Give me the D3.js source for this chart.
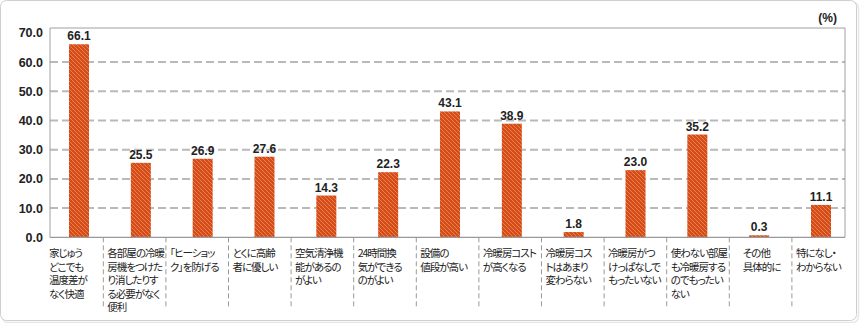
<!DOCTYPE html>
<html><head><meta charset="utf-8">
<script src="https://cdn.jsdelivr.net/npm/d3@7"></script>
<style>
html,body{margin:0;padding:0;background:#fff;}
svg{display:block;}
.cat{font-feature-settings:"palt";}
</style></head>
<body>
<svg id="chart" width="860" height="323"></svg>
<script>
const categories = [
  "家じゅう|どこでも|温度差が|なく快適",
  "各部屋の冷暖|房機をつけた|り消したりす|る必要がなく|便利",
  "「ヒーショッ|ク」を防げる",
  "とくに高齢|者に優しい",
  "空気清浄機|能があるの|がよい",
  "24時間換|気ができる|のがよい",
  "設備の|値段が高い",
  "冷暖房コスト|が高くなる",
  "冷暖房コス|トはあまり|変わらない",
  "冷暖房がつ|けっぱなしで|もったいない",
  "使わない部屋|も冷暖房する|のでもったい|ない",
  "\u3000その他|\u3000具体的に",
  "特になし・|わからない"
];
const values = [66.1, 25.5, 26.9, 27.6, 14.3, 22.3, 43.1, 38.9, 1.8, 23.0, 35.2, 0.3, 11.1];
const yTicks = [0, 10, 20, 30, 40, 50, 60, 70];
const unitLabel = "(%)";

const svg = d3.select("#chart");
const plotL = 50, plotR = 845, plotT = 28, plotB = 237.3;

// outer frame
svg.append("rect").attr("x",2).attr("y",2).attr("width",856.5).attr("height",320.5)
  .attr("rx",6).attr("fill","none").attr("stroke","#e6e6e6").attr("stroke-width",1.5);
svg.append("rect").attr("x",0.5).attr("y",0.5).attr("width",856).attr("height",320)
  .attr("rx",6).attr("fill","#fff").attr("stroke","#cfcfcf");

// pattern
const defs = svg.append("defs");
const pat = defs.append("pattern").attr("id","hatch").attr("patternUnits","userSpaceOnUse")
  .attr("width",4).attr("height",4);
pat.append("rect").attr("width",4).attr("height",4).attr("fill","#d64c16");
pat.append("path").attr("d","M-1,3 L1,5 M0,0 L4,4 M3,-1 L5,1")
  .attr("stroke","#ec9670").attr("stroke-width",0.7);

const y = d3.scaleLinear().domain([0,70]).range([plotB, plotB - 70*2.92]);
const x = d3.scalePoint().domain(d3.range(categories.length)).range([79, 821]);
const lx = d3.scaleBand().domain(d3.range(categories.length)).range([40.7, 854.5]);

// gridlines
svg.append("g").selectAll("line").data(yTicks.filter(t => t>0 && t<70)).join("line")
  .attr("x1",plotL).attr("x2",plotR).attr("y1",d=>y(d)).attr("y2",d=>y(d))
  .attr("stroke","#b9b9b9").attr("stroke-width",2).attr("stroke-dasharray","8,4");

// plot frame
svg.append("path").attr("d",`M${plotL},${plotB}V${plotT}H${plotR}V${plotB}`)
  .attr("fill","none").attr("stroke","#a0a0a0").attr("stroke-width",1);

// bars
svg.append("g").selectAll("rect").data(values).join("rect")
  .attr("x",(d,i)=>x(i)-10).attr("width",20)
  .attr("y",d=>Math.min(y(d), plotB-2)).attr("height",d=>Math.max(plotB - y(d), 2))
  .attr("fill","url(#hatch)");

// value labels
svg.append("g").selectAll("text").data(values).join("text")
  .attr("x",(d,i)=>x(i)).attr("y",d=>Math.min(y(d), plotB-2)-4)
  .attr("text-anchor","middle")
  .attr("font-family","Liberation Sans, Arial, sans-serif")
  .attr("font-weight","bold").attr("font-size",12).attr("fill","#222")
  .text(d=>d.toFixed(1));

// y axis labels
svg.append("g").selectAll("text").data(yTicks).join("text")
  .attr("x",43).attr("y",d=>y(d)+4.5)
  .attr("text-anchor","end")
  .attr("font-family","Liberation Sans, Arial, sans-serif")
  .attr("font-weight","bold").attr("font-size",12.5).attr("fill","#222")
  .text(d=>d.toFixed(1));

// x axis line
svg.append("line").attr("x1",plotL).attr("x2",plotR).attr("y1",plotB).attr("y2",plotB)
  .attr("stroke","#999").attr("stroke-width",1.2);

// dividers
svg.append("g").selectAll("line").data(d3.range(1,categories.length)).join("line")
  .attr("x1",i=>lx(i)).attr("x2",i=>lx(i)).attr("y1",plotB).attr("y2",309)
  .attr("stroke","#999").attr("stroke-width",1).attr("stroke-dasharray","5,3");

// category labels
const lg = svg.append("g").attr("class","cat").attr("font-family","Noto Sans CJK JP, sans-serif")
  .attr("font-size",10.5).attr("letter-spacing",-1).attr("fill","#222");
categories.forEach((c,i)=>{
  const x0 = Math.max(lx(i), 45) + 4;
  const t = lg.append("text").attr("x",x0).attr("y",257);
  c.split("|").forEach((line,j)=>{
    t.append("tspan").attr("x",x0).attr("y",257 + j*13.5).text(line);
  });
});

// unit
svg.append("text").attr("x",837).attr("y",22).attr("text-anchor","end")
  .attr("font-family","Liberation Sans, Arial, sans-serif")
  .attr("font-weight","bold").attr("font-size",12).attr("fill","#222").text(unitLabel);
</script>
</body></html>
